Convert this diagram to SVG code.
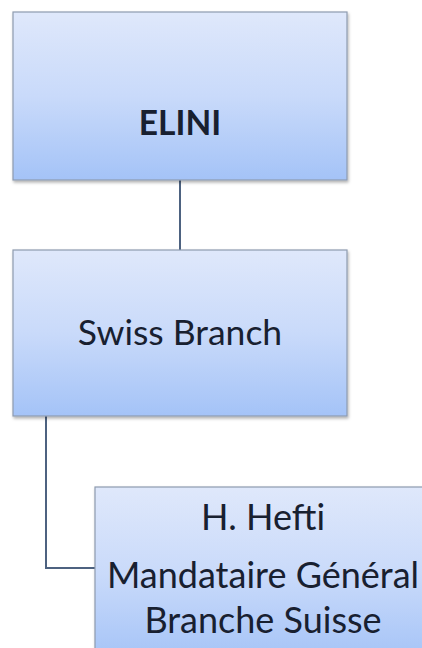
<svg xmlns="http://www.w3.org/2000/svg" width="422" height="648" viewBox="0 0 422 648">
<defs>
<linearGradient id="g" x1="0" y1="0" x2="0" y2="1">
<stop offset="0" stop-color="#dfe8fb"/>
<stop offset="0.5" stop-color="#c9dafa"/>
<stop offset="1" stop-color="#a4c3f7"/>
</linearGradient>
<filter id="sh" x="-5%" y="-5%" width="115%" height="115%">
<feDropShadow dx="1" dy="2" stdDeviation="1.5" flood-color="#000" flood-opacity="0.3"/>
</filter>
</defs>
<style>
.box{fill:url(#g);stroke:#8e9bb0;stroke-width:1.2;filter:url(#sh)}
.t{font-family:Lato,"Open Sans","Liberation Sans",sans-serif;fill:#182030;text-anchor:middle}
.c{fill:none;stroke:#4d6280;stroke-width:2}
</style>
<g id="connectors">
<line class="c" x1="180" y1="180" x2="180" y2="250"/>
<polyline class="c" points="46,416 46,568 95,568"/>
</g>
<g id="elini">
<rect class="box" x="13" y="12" width="334" height="168"/>
<text class="t" x="180" y="135" font-size="33.5" font-weight="bold">ELINI</text>
</g>
<g id="swiss-branch">
<rect class="box" x="13" y="250" width="334" height="166"/>
<text class="t" x="180" y="345" font-size="35.5">Swiss Branch</text>
</g>
<g id="hefti">
<rect class="box" x="95" y="487" width="336" height="175"/>
<text class="t" x="263" y="530" font-size="36">H. Hefti</text>
<text class="t" x="263" y="588" font-size="36">Mandataire Général</text>
<text class="t" x="263" y="633" font-size="36">Branche Suisse</text>
</g>
</svg>
